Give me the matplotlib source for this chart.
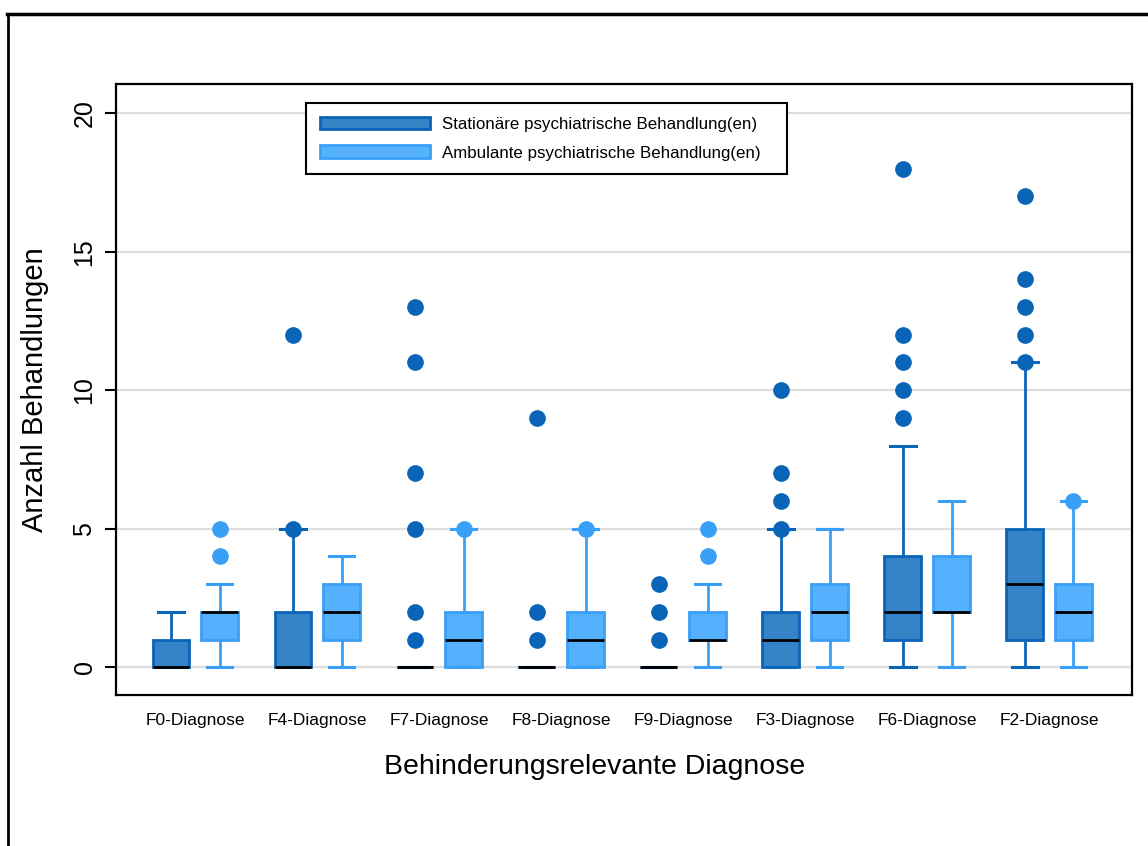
import matplotlib
matplotlib.use("Agg")
import matplotlib.pyplot as plt
from matplotlib.patches import Patch
from matplotlib.lines import Line2D

plt.rcParams['font.family'] = ['Liberation Sans', 'DejaVu Sans']

categories = ['F0-Diagnose', 'F4-Diagnose', 'F7-Diagnose', 'F8-Diagnose',
              'F9-Diagnose', 'F3-Diagnose', 'F6-Diagnose', 'F2-Diagnose']

# Stationaere Behandlung(en)
stat_lo = [0, 0, 0, 0, 0, 0, 0, 0]
stat_q1 = [0, 0, 0, 0, 0, 0, 1, 1]
stat_med = [0, 0, 0, 0, 0, 1, 2, 3]
stat_q3 = [1, 2, 0, 0, 0, 2, 4, 5]
stat_hi = [2, 5, 0, 0, 0, 5, 8, 11]
stat_out = [[], [5, 12], [1, 2, 5, 7, 11, 13], [1, 2, 9], [1, 2, 3],
            [5, 6, 7, 10], [9, 10, 11, 12, 18], [11, 12, 13, 14, 17]]

# Ambulante Behandlung(en)
amb_lo = [0, 0, 0, 0, 0, 0, 0, 0]
amb_q1 = [1, 1, 0, 0, 1, 1, 2, 1]
amb_med = [2, 2, 1, 1, 1, 2, 2, 2]
amb_q3 = [2, 3, 2, 2, 2, 3, 4, 3]
amb_hi = [3, 4, 5, 5, 3, 5, 6, 6]
amb_out = [[4, 5], [], [5], [5], [4, 5], [], [], [6]]

labels = ['Stationäre psychiatrische Behandlung(en)',
          'Ambulante psychiatrische Behandlung(en)']


def make_stats(lo, q1, med, q3, hi, out):
    return [dict(whislo=a, q1=b, med=c, q3=d, whishi=e, fliers=f)
            for a, b, c, d, e, f in zip(lo, q1, med, q3, hi, out)]


dark_fill, dark_edge = '#3483c6', '#0a64b8'
light_fill, light_edge = '#55b0fd', '#39a0f8'

fig = plt.figure(figsize=(11.48, 8.46), dpi=100)
ax = fig.add_axes([0.1010, 0.1785, 0.8851, 0.7222])

pos = list(range(len(categories)))
series = [
    (make_stats(stat_lo, stat_q1, stat_med, stat_q3, stat_hi, stat_out), -0.2, dark_fill, dark_edge),
    (make_stats(amb_lo, amb_q1, amb_med, amb_q3, amb_hi, amb_out), 0.2, light_fill, light_edge),
]
for stats, off, fc, ec in series:
    ax.bxp(stats, positions=[p + off for p in pos], widths=0.3, capwidths=0.21,
           patch_artist=True, manage_ticks=False,
           boxprops=dict(facecolor=fc, edgecolor=ec, linewidth=2),
           whiskerprops=dict(color=ec, linewidth=2),
           capprops=dict(color=ec, linewidth=2.2),
           medianprops=dict(color='black', linewidth=2),
           flierprops=dict(marker='o', markersize=11, markerfacecolor=ec,
                           markeredgecolor=ec, linestyle='none'))

ax.set_xlim(-0.65, 7.68)
ax.set_ylim(-1.0, 21.05)
ax.set_yticks([0, 5, 10, 15, 20])
ax.set_yticklabels(['0', '5', '10', '15', '20'], rotation=90, va='center', fontsize=18)
ax.set_xticks(pos)
ax.set_xticklabels(categories, fontsize=12.5)
ax.tick_params(axis='x', length=0, pad=13)
ax.tick_params(axis='y', length=8, width=1.5, pad=6)
ax.grid(axis='y', color='#dedede', linewidth=1.6)
ax.set_axisbelow(True)
for s in ax.spines.values():
    s.set_linewidth(1.6)

ax.set_xlabel('Behinderungsrelevante Diagnose', fontsize=20.5)
ax.xaxis.set_label_coords(0.471, -0.097)
ax.set_ylabel('Anzahl Behandlungen', fontsize=21, labelpad=17)

handles = [Patch(facecolor=dark_fill, edgecolor=dark_edge, linewidth=2),
           Patch(facecolor=light_fill, edgecolor=light_edge, linewidth=2)]
leg = ax.legend(handles, labels, loc='upper left', mode='expand',
                bbox_to_anchor=(0.187, 0.853, 0.473, 0.116), borderaxespad=0,
                fontsize=12.2, handlelength=6.5, handleheight=0.8,
                handletextpad=0.7, labelspacing=0.8, borderpad=0.8,
                fancybox=False, framealpha=1)
leg.get_frame().set_edgecolor('black')
leg.get_frame().set_linewidth(1.5)

# outer frame (cropped at right and bottom)
fig.add_artist(Line2D([7 / 1148, 1.0], [1 - 14 / 846, 1 - 14 / 846], color='black', linewidth=2.5))
fig.add_artist(Line2D([8 / 1148, 8 / 1148], [0, 1 - 14 / 846], color='black', linewidth=2))

fig.savefig('out.png', dpi=100)
